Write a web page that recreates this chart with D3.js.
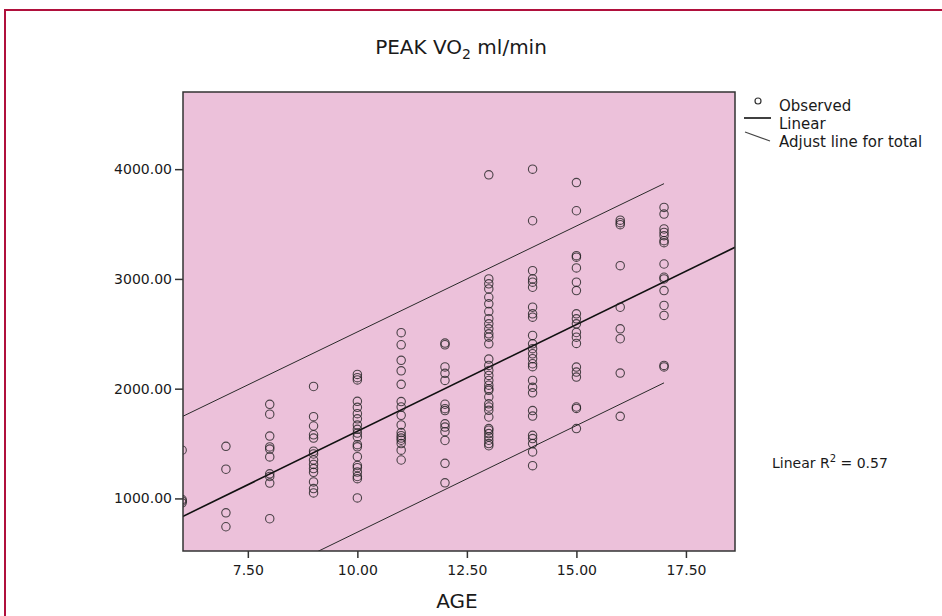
<!DOCTYPE html>
<html>
<head>
<meta charset="utf-8">
<script src="https://cdnjs.cloudflare.com/ajax/libs/d3/7.8.5/d3.min.js"></script>
<style>
  body { margin: 0; background: #fff; }
  text { font-family: "DejaVu Sans", sans-serif; fill: #1a1a1a; }
</style>
</head>
<body>
<div class="chart"></div>
<script>
// observed peak VO2 (ml/min), one list per age column
var ages = [6, 7, 8, 9, 10, 11, 12, 13, 14, 15, 16, 17];
var vo2ByAge = [
  [1440, 990, 975, 960],
  [1475, 1266, 869, 742],
  [1857, 1768, 1568, 1469, 1450, 1378, 1224, 1200, 1140, 815],
  [2020, 1745, 1660, 1580, 1550, 1430, 1405, 1350, 1310, 1272, 1238, 1150, 1090, 1050],
  [2130, 2100, 2080, 1885, 1830, 1772, 1725, 1668, 1630, 1595, 1560, 1490, 1470, 1380, 1300, 1280, 1240, 1200, 1180, 1005],
  [2510, 2400, 2258, 2163, 2040, 1882, 1833, 1757, 1670, 1600, 1572, 1550, 1530, 1500, 1440, 1350],
  [2415, 2400, 2198, 2140, 2075, 1858, 1818, 1800, 1680, 1650, 1608, 1528, 1320, 1142],
  [3948, 3000, 2955, 2909, 2833, 2773, 2703, 2638, 2591, 2545, 2500, 2469, 2409, 2270, 2212, 2166, 2121, 2075, 2032, 2000, 1985, 1924, 1862, 1833, 1803, 1742, 1636, 1621, 1591, 1560, 1530, 1500, 1480],
  [4000, 3530, 3075, 3000, 2970, 2924, 2742, 2682, 2651, 2485, 2409, 2364, 2318, 2273, 2227, 2200, 2075, 2012, 1962, 1800, 1750, 1575, 1545, 1500, 1424, 1298],
  [3878, 3621, 3212, 3198, 3100, 2970, 2894, 2682, 2636, 2591, 2512, 2469, 2412, 2197, 2151, 2106, 1833, 1820, 1636],
  [3535, 3512, 3494, 3121, 2742, 2545, 2455, 2142, 1748],
  [3651, 3591, 3455, 3424, 3394, 3348, 3330, 3136, 3015, 3000, 2894, 2758, 2667, 2212, 2198]
];

var xTicks = [7.5, 10, 12.5, 15, 17.5];
var yTicks = [1000, 2000, 3000, 4000];

// fitted line and the two adjust lines
var linearX = [6, 18.62];
var linearY = [833, 3288];
var adjustX = [6, 17];
var adjustUpperY = [1745, 3868];
var adjustLowerY = [-85, 2053];
var rSquared = "0.57";

var legendLabels = ["Observed", "Linear", "Adjust line for total"];

var points = [];
ages.forEach(function(a, i) {
  vo2ByAge[i].forEach(function(v) {
    points.push({ age: a, vo2: v });
  });
});

var baseWidth = 942, baseHeight = 616;
var margin = { top: 92, right: 207, bottom: 65, left: 183 },
  width = baseWidth - margin.left - margin.right,
  height = baseHeight - margin.top - margin.bottom;

var svg = d3.select(".chart")
  .append("svg")
  .attr("width", baseWidth)
  .attr("height", baseHeight);

// crimson frame round the figure
svg.append("rect")
  .attr("x", 5)
  .attr("y", 10)
  .attr("width", 1000)
  .attr("height", 1000)
  .attr("fill", "none")
  .attr("stroke", "#b0103c")
  .attr("stroke-width", 2);

var xScale = d3.scaleLinear().domain([6.02, 18.62]).range([0, width]);
var yScale = d3.scaleLinear().domain([521, 4703]).range([height, 0]);

var chart = svg.append("g")
  .attr("transform", "translate(" + margin.left + "," + margin.top + ")");

chart.append("rect")
  .attr("width", width)
  .attr("height", height)
  .attr("fill", "#ecc1da");

svg.append("defs").append("clipPath")
  .attr("id", "plotClip")
  .append("rect")
  .attr("width", width)
  .attr("height", height);

var plot = chart.append("g").attr("clip-path", "url(#plotClip)");

var line = d3.line()
  .x(function(d) { return xScale(d[0]); })
  .y(function(d) { return yScale(d[1]); });

plot.append("path")
  .datum(d3.zip(adjustX, adjustUpperY))
  .attr("d", line)
  .attr("fill", "none")
  .attr("stroke", "#2a2a2a")
  .attr("stroke-width", 1);

plot.append("path")
  .datum(d3.zip(adjustX, adjustLowerY))
  .attr("d", line)
  .attr("fill", "none")
  .attr("stroke", "#2a2a2a")
  .attr("stroke-width", 1);

plot.append("path")
  .datum(d3.zip(linearX, linearY))
  .attr("d", line)
  .attr("fill", "none")
  .attr("stroke", "#111")
  .attr("stroke-width", 1.6);

plot.selectAll(".dot")
  .data(points)
  .enter()
  .append("circle")
  .attr("class", "dot")
  .attr("cx", function(d) { return xScale(d.age); })
  .attr("cy", function(d) { return yScale(d.vo2); })
  .attr("r", 4.2)
  .attr("fill", "none")
  .attr("stroke", "#222")
  .attr("stroke-opacity", 0.8)
  .attr("stroke-width", 1.1);

// plot border
chart.append("rect")
  .attr("width", width)
  .attr("height", height)
  .attr("fill", "none")
  .attr("stroke", "#333")
  .attr("stroke-width", 1.5);

var xAxis = d3.axisBottom(xScale).tickValues(xTicks).tickSize(7).tickPadding(7).tickFormat(d3.format(".2f"));
var yAxis = d3.axisLeft(yScale).tickValues(yTicks).tickSize(8).tickPadding(3).tickFormat(d3.format(".2f"));

var gx = chart.append("g")
  .attr("transform", "translate(0," + height + ")")
  .call(xAxis);
var gy = chart.append("g").call(yAxis);

[gx, gy].forEach(function(g) {
  g.select(".domain").remove();
  g.selectAll(".tick line").attr("stroke", "#333").attr("stroke-width", 1.5);
  g.selectAll(".tick text").attr("font-size", 14).attr("fill", "#1a1a1a")
    .attr("font-family", "DejaVu Sans, sans-serif");
});

// axis title
svg.append("text")
  .attr("x", 457)
  .attr("y", 608)
  .attr("text-anchor", "middle")
  .attr("font-size", 20)
  .text("AGE");

// chart title
var title = svg.append("text")
  .attr("x", 461)
  .attr("y", 54)
  .attr("text-anchor", "middle")
  .attr("font-size", 20);
title.append("tspan").text("PEAK VO");
title.append("tspan").attr("font-size", 14).attr("dy", 5).text("2");
title.append("tspan").attr("dy", -5).text(" ml/min");

// legend
var legend = svg.append("g");
legend.append("circle")
  .attr("cx", 758).attr("cy", 101).attr("r", 3)
  .attr("fill", "none").attr("stroke", "#333").attr("stroke-width", 1.2);
legend.append("line")
  .attr("x1", 744).attr("x2", 771).attr("y1", 118).attr("y2", 118)
  .attr("stroke", "#111").attr("stroke-width", 1.6);
legend.append("line")
  .attr("x1", 745).attr("x2", 770).attr("y1", 132).attr("y2", 141)
  .attr("stroke", "#444").attr("stroke-width", 1.2);
legend.selectAll(".legendText")
  .data(legendLabels)
  .enter()
  .append("text")
  .attr("class", "legendText")
  .attr("x", 779)
  .attr("y", function(d, i) { return 111 + i * 18; })
  .attr("font-size", 15)
  .text(function(d) { return d; });

// R squared note
var rText = svg.append("text")
  .attr("x", 772)
  .attr("y", 468)
  .attr("font-size", 14);
rText.append("tspan").text("Linear R");
rText.append("tspan").attr("font-size", 10).attr("dy", -6).text("2");
rText.append("tspan").attr("dy", 6).text(" = " + rSquared);
</script>
</body>
</html>
